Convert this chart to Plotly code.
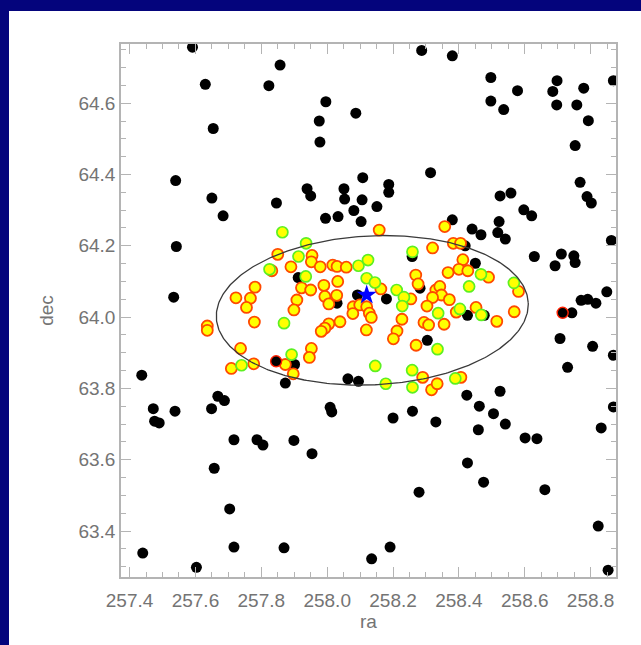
import numpy as np
import plotly.graph_objects as go

# ---------------------------------------------------------------- data
# field sources (black)
field_ra = [257.591, 257.857, 257.630, 257.823, 257.996, 258.087, 257.976, 257.654, 257.978,
            257.540, 258.108, 257.939, 257.950, 258.051, 258.053, 258.106, 257.650, 257.846,
            257.684, 258.081, 257.995, 258.033, 258.103, 257.542, 257.534, 257.912,
            258.287, 258.380, 258.497, 258.698, 258.869, 258.578, 258.685, 258.779, 258.497,
            258.536, 258.697, 258.758, 258.793, 258.753, 258.314, 258.187, 258.187, 258.151,
            258.768, 258.789, 258.802, 258.525, 258.558, 258.597, 258.621, 258.380, 258.522,
            258.440, 258.467, 258.518, 258.541, 258.863, 258.419, 258.629, 258.711, 258.749,
            258.753, 258.692, 258.450, 258.849, 258.771, 258.791, 258.816, 258.258, 258.282,
            258.180, 257.437, 257.472, 257.476, 257.490, 257.538, 257.649, 257.668, 257.688,
            257.873, 258.063, 258.095, 258.009, 258.014, 257.717, 257.787, 257.805, 257.899,
            257.954, 257.657, 257.704, 257.440, 257.717, 257.869, 257.603, 258.135, 258.743,
            258.707, 258.806, 258.869, 258.730, 258.304, 258.424, 258.525, 258.462, 258.505,
            258.541, 258.459, 258.200, 258.259, 258.330, 258.601, 258.637, 258.869, 258.832,
            258.426, 258.475, 258.661, 258.279, 258.823, 258.191, 258.853, 258.426, 258.477,
            257.901, 258.030, 258.092]
field_dec = [64.757, 64.707, 64.653, 64.649, 64.604, 64.572, 64.550, 64.529, 64.491,
             64.383, 64.391, 64.360, 64.340, 64.360, 64.331, 64.329, 64.334, 64.320,
             64.284, 64.299, 64.277, 64.282, 64.268, 64.198, 64.056, 64.111,
             64.748, 64.733, 64.672, 64.663, 64.663, 64.635, 64.633, 64.642, 64.606,
             64.582, 64.595, 64.595, 64.551, 64.481, 64.405, 64.372, 64.350, 64.310,
             64.378, 64.338, 64.320, 64.340, 64.348, 64.301, 64.284, 64.273, 64.268,
             64.247, 64.231, 64.237, 64.219, 64.215, 64.200, 64.170, 64.177, 64.172,
             64.153, 64.144, 64.151, 64.071, 64.047, 64.050, 64.039, 64.170, 64.081,
             64.051, 63.837, 63.743, 63.708, 63.703, 63.736, 63.743, 63.778, 63.766,
             63.815, 63.827, 63.820, 63.747, 63.734, 63.656, 63.656, 63.641, 63.654,
             63.617, 63.576, 63.462, 63.338, 63.355, 63.353, 63.298, 63.322, 64.012,
             63.940, 63.918, 63.893, 63.859, 63.935, 63.781, 63.792, 63.750, 63.729,
             63.700, 63.684, 63.717, 63.736, 63.706, 63.661, 63.659, 63.748, 63.689,
             63.591, 63.537, 63.516, 63.509, 63.414, 63.355, 63.290, 64.005, 64.005,
             63.867, 64.039, 64.062]

# field sources flagged with a red ring
flagged_ra = [257.845, 258.715]
flagged_dec = [63.876, 64.012]

# candidate members (yellow, red-orange edge)
memb_ra = [257.850, 257.954, 257.952, 257.890, 257.979, 258.017, 258.030, 258.058, 257.781,
           257.723, 257.767, 257.755, 257.922, 257.950, 257.990, 258.032, 257.908, 257.899,
           257.993, 258.029, 258.005, 258.158, 258.357, 258.320, 258.383, 258.405, 258.412,
           258.367, 258.400, 258.427, 258.490, 258.269, 258.276, 258.330, 258.342, 258.347,
           258.320, 258.371, 258.303, 258.254, 258.163, 258.581, 258.568, 258.452, 258.392,
           258.515, 258.294, 258.308, 258.355, 258.227, 258.212, 258.201, 258.270, 258.079,
           258.099, 258.120, 258.128, 258.134, 258.119, 258.078, 258.039, 258.005, 257.993,
           257.982, 257.779, 257.636, 257.636, 257.737, 257.709, 257.777, 257.952, 257.946,
           257.873, 257.897, 258.290, 258.317, 258.334, 258.406, 257.832]
memb_dec = [64.176, 64.173, 64.155, 64.141, 64.141, 64.146, 64.142, 64.140, 64.084,
            64.054, 64.053, 64.027, 64.082, 64.076, 64.089, 64.100, 64.048, 64.020,
            64.058, 64.061, 64.037, 64.244, 64.254, 64.194, 64.207, 64.207, 64.161,
            64.125, 64.134, 64.130, 64.112, 64.118, 64.093, 64.076, 64.086, 64.062,
            64.055, 64.049, 64.031, 64.051, 64.079, 64.072, 64.015, 64.027, 64.014,
            63.988, 63.985, 63.978, 63.980, 63.994, 63.961, 63.939, 63.921, 64.029,
            64.034, 64.029, 64.011, 63.999, 63.964, 64.010, 63.987, 63.981, 63.969,
            63.960, 63.986, 63.975, 63.963, 63.912, 63.856, 63.869, 63.912, 63.887,
            63.867, 63.841, 63.831, 63.796, 63.813, 63.831, 64.130]

# candidate members (yellow, green edge)
green_ra = [257.864, 257.936, 257.913, 257.825, 257.935, 258.095, 258.124, 258.259, 258.120,
            258.145, 258.211, 258.233, 258.228, 258.337, 258.403, 258.468, 258.467, 258.431,
            258.567, 257.869, 257.892, 257.740, 258.146, 258.258, 258.259, 258.178, 258.335,
            258.389]
green_dec = [64.238, 64.207, 64.170, 64.134, 64.114, 64.144, 64.160, 64.183, 64.109,
             64.097, 64.076, 64.056, 64.031, 64.011, 64.023, 64.006, 64.120, 64.086,
             64.096, 63.983, 63.895, 63.865, 63.863, 63.851, 63.803, 63.813, 63.910,
             63.828]

# cluster centre
centre_ra = [258.120]
centre_dec = [64.062]

# cluster extent ellipse
ell_ra0, ell_dec0 = 258.137, 64.019
ell_a, ell_b = 0.474, 0.209          # semi-axes (ra, dec)
ell_tilt_deg = 2.5

# axes
x_range = [257.374, 258.877]
y_range = [63.271, 64.766]
x_ticks = [257.4, 257.6, 257.8, 258.0, 258.2, 258.4, 258.6, 258.8]
y_ticks = [63.4, 63.6, 63.8, 64.0, 64.2, 64.4, 64.6]

# ---------------------------------------------------------------- figure
W, H = 641, 645
ML, MR, MT, MB = 121, 25, 44, 68
pw, ph = W - ML - MR, H - MT - MB

fig = go.Figure()

fig.add_trace(go.Scatter(
    x=field_ra, y=field_dec, mode="markers",
    marker=dict(symbol="circle", size=11, color="black", line=dict(width=0)),
    hoverinfo="skip"))
fig.add_trace(go.Scatter(
    x=memb_ra, y=memb_dec, mode="markers",
    marker=dict(symbol="circle", size=11, color="#ffff00",
                line=dict(width=1.8, color="#ff4a00")),
    hoverinfo="skip"))
fig.add_trace(go.Scatter(
    x=green_ra, y=green_dec, mode="markers",
    marker=dict(symbol="circle", size=11, color="#ffff00",
                line=dict(width=1.7, color="#5cf022")),
    hoverinfo="skip"))
fig.add_trace(go.Scatter(
    x=flagged_ra, y=flagged_dec, mode="markers",
    marker=dict(symbol="circle", size=11, color="black",
                line=dict(width=1.4, color="#ff2000")),
    hoverinfo="skip"))

t = np.linspace(0, 2 * np.pi, 361)
th = np.deg2rad(ell_tilt_deg)
u, v = ell_a * np.cos(t), ell_b * np.sin(t)
fig.add_trace(go.Scatter(
    x=ell_ra0 + u * np.cos(th) - v * np.sin(th),
    y=ell_dec0 + u * np.sin(th) + v * np.cos(th),
    mode="lines", line=dict(color="#3a3a3a", width=1.3), hoverinfo="skip"))

fig.add_trace(go.Scatter(
    x=centre_ra, y=centre_dec, mode="markers",
    marker=dict(symbol="star", size=15, color="#0000ff", line=dict(width=0)),
    hoverinfo="skip"))

# white panel over the dark-blue slide background
def px_to_paper_x(px):
    return (px - ML) / pw

def px_to_paper_y(py):
    return (H - MB - py) / ph

fig.add_shape(type="rect", xref="paper", yref="paper", layer="below",
              x0=px_to_paper_x(9), x1=px_to_paper_x(W + 5),
              y0=px_to_paper_y(H + 5), y1=px_to_paper_y(11),
              fillcolor="white", line=dict(width=0))

font_family = "Liberation Sans, Arial, sans-serif"
txt_color = "#747474"
axis_color = "#b4b4b4"

common = dict(showgrid=False, zeroline=False, showline=True, linecolor=axis_color,
              linewidth=1.5, mirror="allticks", ticks="inside", ticklen=10,
              tickwidth=1.2, tickcolor=axis_color,
              tickfont=dict(family=font_family, size=19, color=txt_color),
              minor=dict(ticks="inside", ticklen=5, tickwidth=1.2,
                         tickcolor=axis_color, dtick=0.05))

fig.update_layout(
    width=W, height=H,
    margin=dict(l=ML, r=MR, t=MT, b=MB),
    paper_bgcolor="#04047c", plot_bgcolor="white",
    showlegend=False,
    xaxis=dict(range=x_range, tickvals=x_ticks,
               ticktext=[f"{v:.1f}" for v in x_ticks], ticklabelstandoff=5,
               title=dict(text="ra", standoff=5,
                          font=dict(family=font_family, size=19, color=txt_color)),
               **common),
    yaxis=dict(range=y_range, tickvals=y_ticks,
               ticktext=[f"{v:.1f}" for v in y_ticks], ticklabelstandoff=0,
               title=dict(text="dec", standoff=20,
                          font=dict(family=font_family, size=19, color=txt_color)),
               **common),
)

fig.write_html("out.html")
